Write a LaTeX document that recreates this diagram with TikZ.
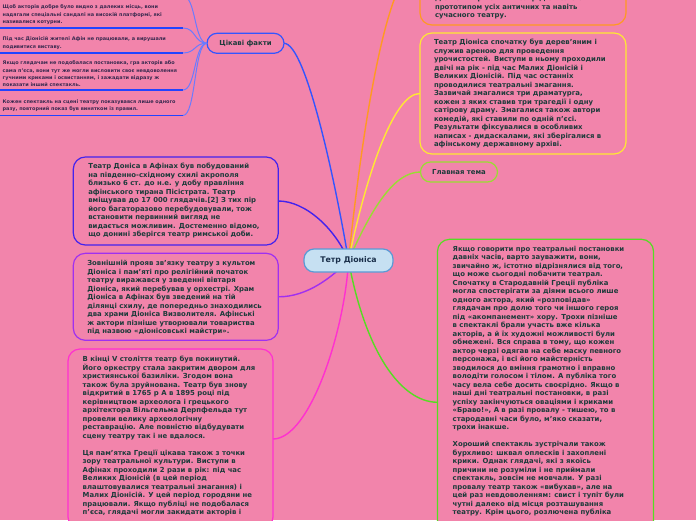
\documentclass[tikz,border=0pt]{standalone}
\usepackage{fontspec}
\setmainfont{DejaVu Sans}
\definecolor{bg}{HTML}{F284AB}
\definecolor{ink}{HTML}{1E3B3B}
\definecolor{factink}{HTML}{3A2A50}
\definecolor{cfill}{HTML}{C6E0F2}
\definecolor{cborder}{HTML}{5A9AD6}
\definecolor{cnavy}{HTML}{1A2F4A}
\definecolor{cfacts}{HTML}{3355FF}
\definecolor{cunder}{HTML}{2244FF}
\definecolor{cfactlink}{HTML}{6A7BFF}
\definecolor{cone}{HTML}{4422EE}
\definecolor{ctwo}{HTML}{A030F0}
\definecolor{cthree}{HTML}{FF30D0}
\definecolor{corange}{HTML}{FF9922}
\definecolor{cyellow}{HTML}{FFE833}
\definecolor{cygreen}{HTML}{99DD33}
\definecolor{cgreen}{HTML}{55DD22}
\pgfdeclarelayer{back}
\pgfsetlayers{back,main}
\begin{document}
\begin{tikzpicture}[x=1pt,y=-1pt,
  every node/.style={inner sep=0pt, outer sep=0pt},
  topicbox/.style={draw=#1, line width=1.2pt, rounded corners=12pt, fill=bg, anchor=north west},
  pill/.style={draw=#1, line width=1.2pt, rounded corners=10pt, fill=bg, font=\bfseries\fontsize{6.9}{8}\selectfont, text=ink},
  bigtext/.style={anchor=north west, align=left, font=\bfseries\fontsize{6.9}{8.5}\selectfont, text=ink},
  facttext/.style={anchor=north west, align=left, font=\bfseries\fontsize{4.95}{7.4}\selectfont, text=factink},
  link/.style={draw=#1, line width=1.4pt},
  underline/.style={draw=cunder, line width=1.5pt},
  factlink/.style={draw=cfactlink, line width=1pt},
]
\useasboundingbox (0,0) rectangle (696,520);
\clip (0,0) rectangle (696,520);
\begin{pgfonlayer}{back}
\fill[bg] (0,0) rectangle (696,520);
\end{pgfonlayer}

% central topic
\node[draw=cborder, line width=1.2pt, fill=cfill, rounded corners=10pt, minimum width=89, minimum height=23,
  font=\bfseries\fontsize{7.8}{9}\selectfont, text=cnavy] (c) at (348.5,260.5) {Тетр Діоніса};

% left side
\node[pill=cfacts, minimum width=77, minimum height=20] (f) at (245.5,43.3) {Цікаві факти};

\node[topicbox=cone, minimum width=205, minimum height=88] (b1) at (73.3,157) {};
\node[topicbox=ctwo, minimum width=205, minimum height=87] (b2) at (73.3,253.3) {};
\node[topicbox=cthree, minimum width=205, minimum height=180] (b3) at (68,349) {};

% right side
\node[topicbox=corange, minimum width=206, minimum height=120] (b4) at (420,-95) {};
\node[topicbox=cyellow, minimum width=206, minimum height=121] (b5) at (420,33) {};
\node[pill=cygreen, minimum width=77, minimum height=20] (g) at (459,172) {Главная тема};
\node[topicbox=cgreen, minimum width=216, minimum height=326] (b6) at (437.5,239.3) {};

% connectors
\begin{pgfonlayer}{back}
\draw[link=cfacts] (f.east) .. controls (306,43) and (336,185) .. (c.center);
\draw[link=cone] (b1.east) .. controls (305,201) and (335,228) .. (c.center);
\draw[link=ctwo] (b2.east) .. controls (308,297) and (333,276) .. (c.center);
\draw[link=cthree] (b3.east) .. controls (310,439) and (345,330) .. (c.center);
\draw[link=corange] (c.center) .. controls (360,150) and (385,-35) .. (b4.west);
\draw[link=cyellow] (c.center) .. controls (365,180) and (393,93) .. (b5.west);
\draw[link=cygreen] (c.center) .. controls (373,205) and (395,172) .. (g.west);
\draw[link=cgreen] (c.center) .. controls (365,350) and (400,402) .. (b6.west);
\end{pgfonlayer}

% facts: underlines and their links
\coordinate (u0) at (0,-4);
\coordinate (u1) at (0,28);
\coordinate (u2) at (0,53);
\coordinate (u3) at (0,90);
\coordinate (u4) at (0,115.5);
\foreach \u/\yy in {u0/-4,u1/28,u2/53,u3/90,u4/115.5}{
  \draw[factlink] (f.west) .. controls (194,43) and (196,\yy) .. (183,\yy);
  \draw[underline] (\u) -- (183,\yy);
}

\node[facttext] (t1) at (2.7,3.7) {\rule{0pt}{5pt}Щоб акторів добре було видно з далеких місць, вони\\надягали спеціальні сандалі на високій платформі, які\\називалися котурни.};
\node[facttext] (t2) at (2.7,35.7) {\rule{0pt}{5pt}Під час Діонісій жителі Афін не працювали, а вирушали\\подивитися виставу.};
\node[facttext] (t3) at (2.7,59.7) {\rule{0pt}{5pt}Якщо глядачам не подобалася постановка, гра акторів або\\сама п'єса, вони тут же могли висловити своє невдоволення\\гучними криками і освистанням, і зажадати відразу ж\\показати інший спектакль.};
\node[facttext] (t4) at (2.7,98.1) {\rule{0pt}{5pt}Кожен спектакль на сцені театру показувався лише одного\\разу, повторний показ був винятком із правил.};

% big texts
\node[bigtext] (x1) at (88.3,161.6) {\rule{0pt}{7pt}Театр Доніса в Афінах був побудований\\на південно-східному схилі акрополя\\близько 6 ст. до н.е. у добу правління\\афінського тирана Пісістрата. Театр\\вміщував до 17 000 глядачів.[2] З тих пір\\його багаторазово перебудовували, тож\\встановити первинний вигляд не\\видається можливим. Достеменно відомо,\\що донині зберігся театр римської доби.};

\node[bigtext] (x2) at (87.3,258.9) {\rule{0pt}{7pt}Зовнішній прояв зв'язку театру з культом\\Діоніса і пам'яті про релігійний початок\\театру виражався у зведенні вівтаря\\Діоніса, який перебував у орхестрі. Храм\\Діоніса в Афінах був зведений на тій\\ділянці схилу, де попередньо знаходились\\два храми Діоніса Визволителя. Афінські\\ж актори пізніше утворювали товариства\\під назвою «діонісовські майстри».};

\node[bigtext] (x3) at (82.7,354.9) {\rule{0pt}{7pt}В кінці V століття театр був покинутий.\\Його оркестру стала закритим двором для\\християнської базиліки. Згодом вона\\також була зруйнована. Театр був знову\\відкритий в 1765 р А в 1895 році під\\керівництвом археолога і грецького\\архітектора Вільгельма Дерпфельда тут\\провели велику археологічну\\реставрацію. Але повністю відбудувати\\сцену театру так і не вдалося.\\[8.5pt]Ця пам'ятка Греції цікава також з точки\\зору театральної культури. Виступи в\\Афінах проходили 2 рази в рік: під час\\Великих Діонісій (в цей період\\влаштовувалися театральні змагання) і\\Малих Діонісій. У цей період городяни не\\працювали. Якщо публіці не подобалася\\п'єса, глядачі могли закидати акторів і};

\node[bigtext] (x4) at (435,-6.3) {\rule{0pt}{7pt}Діонісії. Афінський театр Діоніса став\\прототипом усіх античних та навіть\\сучасного театру.};

\node[bigtext] (x5) at (434,37.6) {\rule{0pt}{7pt}Театр Діоніса спочатку був дерев'яним і\\служив ареною для проведення\\урочистостей. Виступи в ньому проходили\\двічі на рік - під час Малих Діонісій і\\Великих Діонісій. Під час останніх\\проводилися театральні змагання.\\Зазвичай змагалися три драматурга,\\кожен з яких ставив три трагедії і одну\\сатірову драму. Змагалися також автори\\комедій, які ставили по одній п'єсі.\\Результати фіксувалися в особливих\\написах - дидаскалами, які зберігалися в\\афінському державному архіві.};

\node[bigtext] (x6) at (452.7,244.2) {\rule{0pt}{7pt}Якщо говорити про театральні постановки\\давніх часів, варто зауважити, вони,\\звичайно ж, істотно відрізнялися від того,\\що може сьогодні побачити театрал.\\Спочатку в Стародавній Греції публіка\\могла спостерігати за діями всього лише\\одного актора, який «розповідав»\\глядачам про долю того чи іншого героя\\під «акомпанемент» хору. Трохи пізніше\\в спектаклі брали участь вже кілька\\акторів, а й їх художні можливості були\\обмежені. Вся справа в тому, що кожен\\актор черзі одягав на себе маску певного\\персонажа, і всі його майстерність\\зводилося до вміння грамотно і вправно\\володіти голосом і тілом. А публіка того\\часу вела себе досить своєрідно. Якщо в\\наші дні театральні постановки, в разі\\успіху закінчуються оваціями і криками\\«Браво!», А в разі провалу - тишею, то в\\стародавні часи було, м'яко сказати,\\трохи інакше.\\[8.5pt]Хороший спектакль зустрічали також\\бурхливо: шквал оплесків і захоплені\\крики. Однак глядачі, які з якоїсь\\причини не розуміли і не приймали\\спектакль, зовсім не мовчали. У разі\\провалу театр також «вибухав», але на\\цей раз невдоволенням: свист і тупіт були\\чутні далеко від місця розташування\\театру. Крім цього, розлючена публіка};
\end{tikzpicture}
\end{document}
